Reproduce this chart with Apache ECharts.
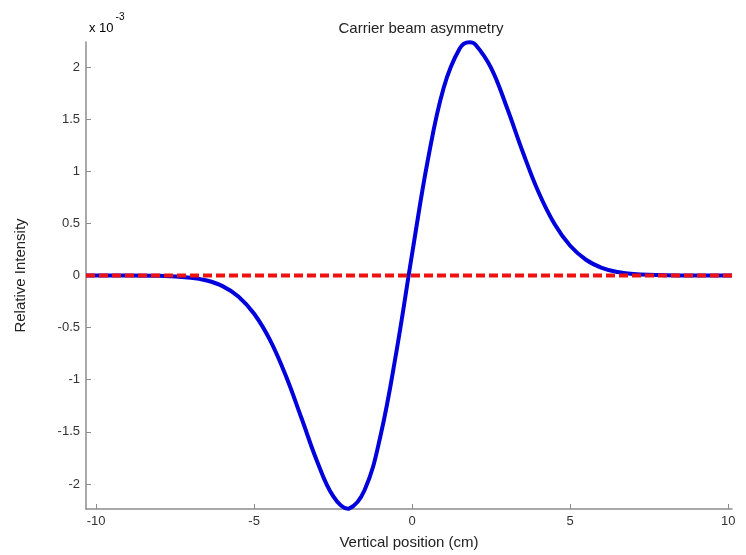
<!DOCTYPE html>
<html>
<head>
<meta charset="utf-8">
<title>Carrier beam asymmetry</title>
<script src="https://cdn.jsdelivr.net/npm/echarts@6/dist/echarts.min.js"></script>
<style>
  html, body { margin: 0; padding: 0; background: #ffffff; }
  #chart { width: 746px; height: 555px; }
</style>
</head>
<body>
<div id="chart"></div>
<script>
// Vertical position (cm) of each sample
const positions = [
  -10.32, -9, -8, -7, -6.5, -6, -5.5, -5, -4.5, -4, -3.5, -3, -2.5, -2.03, -2,
  -1.5, -1, -0.5, 0, 0.5, 1, 1.5, 1.81, 2, 2.5, 3, 3.5, 4, 4.5, 5, 5.5, 6,
  6.5, 7, 8, 9, 10.12
];
// Relative intensity at each position, in units of 1e-3
const asymmetry = [
  0, 0, -0.003, -0.021, -0.048, -0.102, -0.201, -0.367, -0.618, -0.960,
  -1.370, -1.788, -2.116, -2.237, -2.236, -2.055, -1.535, -0.734, 0.211,
  1.114, 1.804, 2.176, 2.237, 2.216, 1.990, 1.609, 1.185, 0.798, 0.496,
  0.285, 0.151, 0.074, 0.034, 0.014, 0.002, 0, 0
];
// Zero reference line
const referenceX = [-10.32, 10.12];
const referenceY = [0, 0];

const xTicks = [-10, -5, 0, 5, 10];
const yTicks = [-2, -1.5, -1, -0.5, 0, 0.5, 1, 1.5, 2];

const pair = (xs, ys) => xs.map((x, i) => [x, ys[i]]);

const axisGray = '#8c8c8c';
const labelColor = '#333333';
const font = 'Liberation Sans, DejaVu Sans, sans-serif';

const chart = echarts.init(document.getElementById('chart'), null, { renderer: 'canvas' });
chart.setOption({
  animation: false,
  backgroundColor: '#ffffff',
  title: {
    text: 'Carrier beam asymmetry',
    left: 416,
    top: 16,
    textAlign: 'center',
    textStyle: { fontFamily: font, fontSize: 15, fontWeight: 'normal', color: '#222222' }
  },
  graphic: [{
    type: 'text',
    left: 89,
    top: 12,
    style: {
      text: '{b|x 10}{s|-3}',
      rich: {
        b: { fontFamily: font, fontSize: 13, color: labelColor, padding: [10, 2, 0, 0] },
        s: { fontFamily: font, fontSize: 10, color: labelColor, verticalAlign: 'top', padding: [0, 0, 10, 0] }
      }
    }
  }],
  grid: { left: 86, right: 14, top: 42, bottom: 44, containLabel: false },
  xAxis: {
    type: 'value',
    min: -10.32,
    max: 10.12,
    name: 'Vertical position (cm)',
    nameLocation: 'middle',
    nameGap: 26,
    nameTextStyle: { fontFamily: font, fontSize: 15, color: '#222222' },
    axisLine: { show: true, onZero: false, lineStyle: { color: axisGray, width: 1.5 } },
    axisTick: { show: true, inside: true, length: 5, customValues: xTicks, lineStyle: { color: axisGray } },
    axisLabel: { customValues: xTicks, fontFamily: font, fontSize: 13, color: labelColor, margin: 6 },
    splitLine: { show: false }
  },
  yAxis: {
    type: 'value',
    min: -2.24,
    max: 2.24,
    name: 'Relative Intensity',
    nameLocation: 'middle',
    nameGap: 58,
    nameTextStyle: { fontFamily: font, fontSize: 15, color: '#222222' },
    axisLine: { show: true, onZero: false, lineStyle: { color: axisGray, width: 1.5 } },
    axisTick: { show: true, inside: true, length: 5, customValues: yTicks, lineStyle: { color: axisGray } },
    axisLabel: { customValues: yTicks, fontFamily: font, fontSize: 13, color: labelColor, margin: 6 },
    splitLine: { show: false }
  },
  series: [
    {
      name: 'Asymmetry',
      type: 'line',
      data: pair(positions, asymmetry),
      smooth: 0.4,
      showSymbol: false,
      clip: true,
      lineStyle: { color: '#0000dd', width: 4 },
      z: 2
    },
    {
      name: 'Zero',
      type: 'line',
      data: pair(referenceX, referenceY),
      showSymbol: false,
      lineStyle: { color: '#ee1111', width: 4, type: [9, 4] },
      z: 3
    }
  ]
});
</script>
</body>
</html>
